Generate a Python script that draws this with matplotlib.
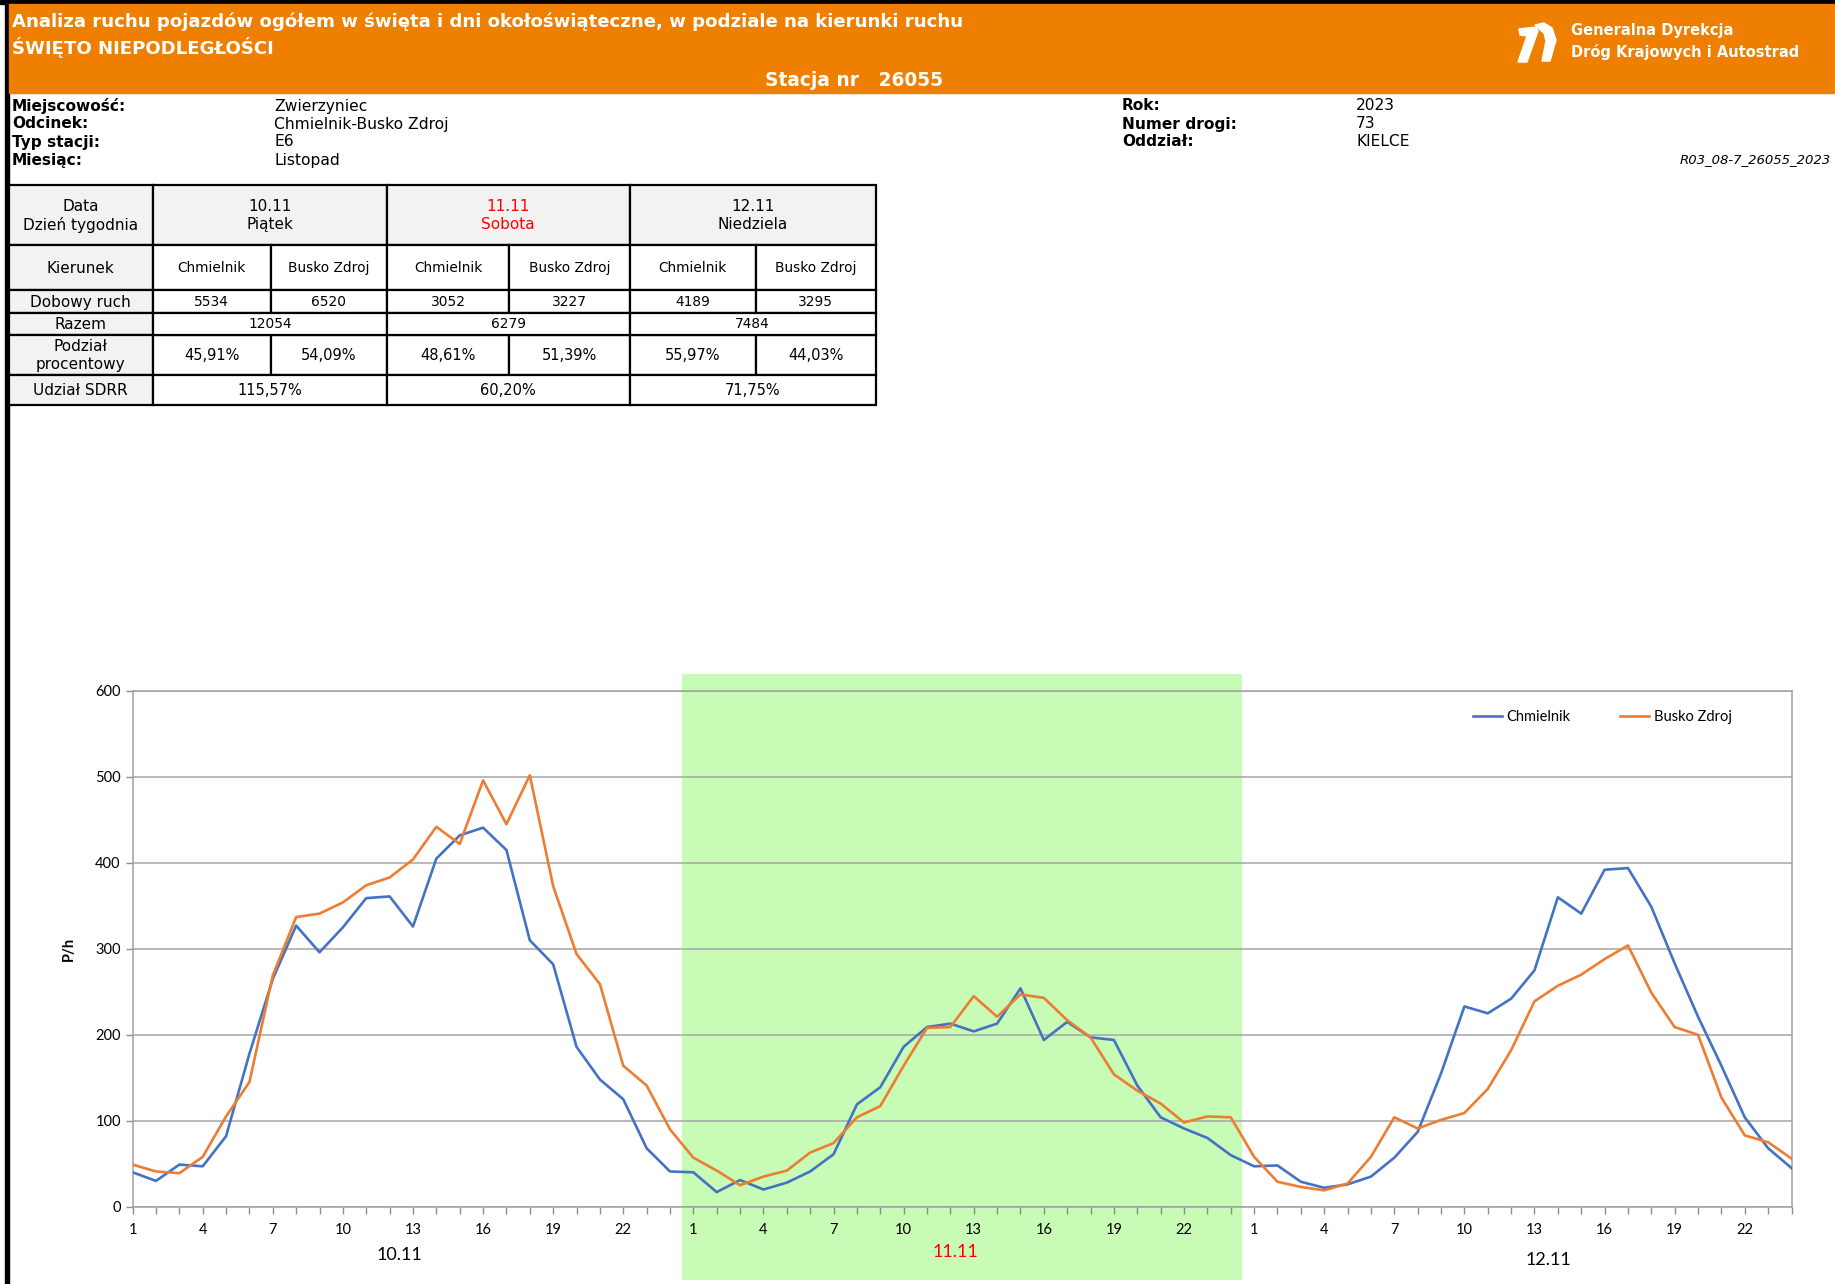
import numpy as np
import matplotlib
matplotlib.use('Agg')
import matplotlib.pyplot as plt
from matplotlib.patches import Rectangle, Polygon

# --- data -------------------------------------------------------------
days = ['10.11', '11.11', '12.11']
weekdays = ['Piątek', 'Sobota', 'Niedziela']
directions = ['Chmielnik', 'Busko Zdroj']

chmielnik = [40, 30, 49, 47, 82, 178, 265, 327, 296, 325, 359, 361,
             326, 405, 432, 441, 415, 310, 282, 186, 148, 125, 68, 41,
             40, 17, 31, 20, 28, 41, 61, 119, 139, 186, 209, 213,
             204, 213, 254, 194, 215, 197, 194, 141, 104, 91, 80, 60,
             47, 48, 29, 22, 26, 35, 57, 87, 155, 233, 225, 242,
             275, 360, 341, 392, 394, 349, 283, 221, 164, 104, 68, 45]
busko = [49, 41, 39, 58, 105, 145, 269, 337, 341, 354, 374, 383,
         404, 442, 422, 496, 445, 502, 373, 294, 259, 164, 141, 90,
         57, 42, 25, 35, 42, 63, 74, 104, 117, 164, 208, 209,
         245, 221, 247, 243, 217, 197, 154, 135, 120, 98, 105, 104,
         58, 29, 23, 19, 27, 58, 104, 91, 101, 109, 137, 182,
         239, 257, 270, 288, 304, 249, 209, 200, 127, 83, 75, 56]

dobowy = ['5534', '6520', '3052', '3227', '4189', '3295']
razem = ['12054', '6279', '7484']
podzial = ['45,91%', '54,09%', '48,61%', '51,39%', '55,97%', '44,03%']
sdrr = ['115,57%', '60,20%', '71,75%']

info_left = [('Miejscowość:', 'Zwierzyniec'), ('Odcinek:', 'Chmielnik-Busko Zdroj'),
             ('Typ stacji:', 'E6'), ('Miesiąc:', 'Listopad')]
info_right = [('Rok:', '2023'), ('Numer drogi:', '73'), ('Oddział:', 'KIELCE')]

W, H = 1835, 1284
ORANGE = '#EF7F00'
BLUE = '#4472C4'
ORANGE_LINE = '#ED7D31'
GREEN = '#C7FBB6'
GREY = '#F2F2F2'
TXT = 'DejaVu Sans'
CHART = 'Lato'

fig = plt.figure(figsize=(W / 100, H / 100), dpi=100)

# page layer in pixel coordinates
page = fig.add_axes([0, 0, 1, 1])
page.set_xlim(0, W)
page.set_ylim(H, 0)
page.axis('off')

page.add_patch(Rectangle((0, 0), W, 4, color='black'))
page.add_patch(Rectangle((5, 0), 3.5, H, color='black'))
page.add_patch(Rectangle((8.5, 4), W, 89, color=ORANGE))

page.text(12, 22, 'Analiza ruchu pojazdów ogółem w święta i dni okołoświąteczne, w podziale na kierunki ruchu',
          color='white', fontsize=13.1, fontweight='bold', family=TXT, va='center')
page.text(12, 47, 'ŚWIĘTO NIEPODLEGŁOŚCI', color='white', fontsize=13.1, fontweight='bold',
          family=TXT, va='center')
page.text(854, 80, 'Stacja nr   26055', color='white', fontsize=13.4, fontweight='bold',
          family=TXT, va='center', ha='center')

# logo
page.add_patch(Polygon([(1519, 29), (1536, 27), (1538, 31), (1527, 62), (1518, 62),
                        (1527, 36), (1520, 35)], closed=True, color='white'))
page.add_patch(Polygon([(1535, 25), (1544, 23), (1552, 28), (1556, 40), (1550, 61),
                        (1542, 61), (1546, 41), (1544, 33), (1539, 29)], closed=True, color='white'))
page.text(1571, 31, 'Generalna Dyrekcja', color='white', fontsize=10.5, fontweight='bold',
          family=TXT, va='center')
page.text(1571, 52, 'Dróg Krajowych i Autostrad', color='white', fontsize=10.5, fontweight='bold',
          family=TXT, va='center')

rows_y = [106, 124, 142, 160]
for (lab, val), y in zip(info_left, rows_y):
    page.text(12, y, lab, fontsize=11.1, fontweight='bold', family=TXT, va='center')
    page.text(274, y, val, fontsize=11.2, family=TXT, va='center')
for (lab, val), y in zip(info_right, rows_y):
    page.text(1122, y, lab, fontsize=11.1, fontweight='bold', family=TXT, va='center')
    page.text(1356, y, val, fontsize=11.2, family=TXT, va='center')
page.text(1831, 160, 'R03_08-7_26055_2023', fontsize=9.5, style='italic', family=TXT,
          va='center', ha='right')

# table
xs = [8.5, 153, 270.5, 387, 509, 629.5, 756, 875.5]
ys = [185, 244.5, 290, 312.5, 334.5, 374.5, 405]


def cell(x0, x1, y0, y1, text='', fill='white', color='black', size=11):
    page.add_patch(Rectangle((x0, y0), x1 - x0, y1 - y0, facecolor=fill,
                             edgecolor='black', lw=1.6))
    if text:
        page.text((x0 + x1) / 2, (y0 + y1) / 2 + 1, text, ha='center', va='center',
                  fontsize=size, color=color, family=TXT, linespacing=1.25)


cell(xs[0], xs[1], ys[0], ys[1], 'Data\nDzień tygodnia', GREY)
for i in range(3):
    col = 'red' if i == 1 else 'black'
    cell(xs[1 + 2 * i], xs[3 + 2 * i], ys[0], ys[1], days[i] + '\n' + weekdays[i], GREY, col)
cell(xs[0], xs[1], ys[1], ys[2], 'Kierunek', GREY)
cell(xs[0], xs[1], ys[2], ys[3], 'Dobowy ruch', GREY)
cell(xs[0], xs[1], ys[3], ys[4], 'Razem', GREY)
cell(xs[0], xs[1], ys[4], ys[5], 'Podział\nprocentowy', GREY)
cell(xs[0], xs[1], ys[5], ys[6], 'Udział SDRR', GREY)
for j in range(6):
    cell(xs[1 + j], xs[2 + j], ys[1], ys[2], directions[j % 2], size=9.9)
    cell(xs[1 + j], xs[2 + j], ys[2], ys[3], dobowy[j], size=9.9)
    cell(xs[1 + j], xs[2 + j], ys[4], ys[5], podzial[j], size=10.5)
for i in range(3):
    cell(xs[1 + 2 * i], xs[3 + 2 * i], ys[3], ys[4], razem[i], size=9.9)
    cell(xs[1 + 2 * i], xs[3 + 2 * i], ys[5], ys[6], sdrr[i], size=10.5)

# --- chart ------------------------------------------------------------
left, right, top, bottom = 132.6, 1791.5, 691, 1206.7
ax = fig.add_axes([left / W, (H - bottom) / H, (right - left) / W, (bottom - top) / H])

x = np.arange(len(chmielnik))
ax.plot(x, chmielnik, color=BLUE, lw=1.9, label='Chmielnik', zorder=3)
ax.plot(x, busko, color=ORANGE_LINE, lw=1.9, label='Busko Zdroj', zorder=3)

ax.set_xlim(0, len(x) - 1)
ax.set_ylim(0, 600)
ax.set_axisbelow(True)

trans = ax.get_xaxis_transform()
ax.add_patch(Rectangle((23.5, (bottom - 1280) / (bottom - top)), 24,
                       (1280 - 674) / (bottom - top), transform=trans,
                       facecolor=GREEN, edgecolor='none', clip_on=False, zorder=0.1))

ax.set_yticks(range(0, 601, 100))
ax.yaxis.grid(True, color='#A6A6A6', lw=1.1)
ax.set_xticks(x)
ax.set_xticklabels([str(i % 24 + 1) if (i % 24) % 3 == 0 else '' for i in x])
ax.tick_params(axis='both', colors='#8C8C8C', length=5, width=1, labelcolor='black',
               labelsize=10.5)
ax.tick_params(axis='x', pad=7)
for lab in ax.get_xticklabels() + ax.get_yticklabels():
    lab.set_family(CHART)
for s in ax.spines.values():
    s.set_color('#A0A0A0')
    s.set_linewidth(1.1)

ax.set_ylabel('P/h', fontsize=10.5, fontweight='bold', family=CHART, labelpad=14)

label_x = [11.4, 35.2, 60.6]
label_y = [-0.093, -0.088, -0.104]
for d, lx, ly in zip(days, label_x, label_y):
    ax.text(lx, ly, d, transform=trans, ha='center', va='center', fontsize=13,
            family=CHART, color='red' if d == '11.11' else 'black')

ax.legend(loc='center', bbox_to_anchor=(0.886, 0.95), ncol=2, frameon=False,
          handlelength=2.0, handletextpad=0.3, columnspacing=3.4,
          prop={'family': CHART, 'size': 10.5})

fig.savefig('out.png', dpi=100)
